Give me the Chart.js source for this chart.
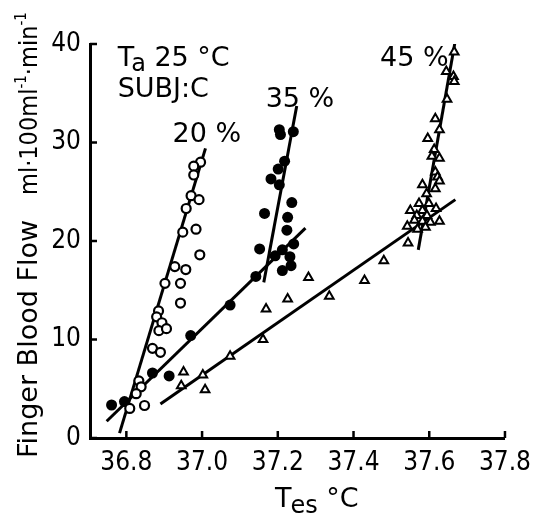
<!DOCTYPE html>
<html>
<head>
<meta charset="utf-8">
<script src="https://cdn.jsdelivr.net/npm/chart.js@4.4.1/dist/chart.umd.min.js"></script>
<style>
  html, body { margin: 0; padding: 0; background: #fff; }
  canvas { display: block; }
</style>
</head>
<body>
<canvas id="fbf" width="541" height="518"></canvas>
<script>
// Tes (°C) vs finger blood flow (ml/100ml/min)
const tes20  = [36.996, 36.978, 36.978, 36.971, 36.992, 36.958, 36.949, 36.984, 36.994, 36.928, 36.957, 36.902, 36.943, 36.943, 36.885, 36.880, 36.894, 36.886, 36.906, 36.869, 36.890, 36.833, 36.839, 36.826, 36.809, 36.848];
const flow20 = [28.0, 27.6, 26.7, 24.6, 24.2, 23.3, 20.9, 21.2, 18.6, 17.4, 17.1, 15.7, 15.7, 13.7, 12.9, 12.3, 11.7, 10.9, 11.1, 9.1, 8.7, 5.8, 5.2, 4.5, 3.0, 3.3];

const tes35  = [37.204, 37.207, 37.241, 37.218, 37.201, 37.182, 37.204, 37.237, 37.165, 37.226, 37.224, 37.242, 37.152, 37.212, 37.193, 37.232, 37.235, 37.212, 37.142, 37.074, 36.970, 36.869, 36.913, 36.761, 36.795];
const flow35 = [31.3, 30.8, 31.1, 28.1, 27.3, 26.3, 25.7, 23.9, 22.8, 22.4, 21.1, 19.7, 19.2, 19.1, 18.5, 18.4, 17.5, 17.0, 16.4, 13.5, 10.4, 6.6, 6.3, 3.35, 3.7];

const tes45  = [36.951, 36.945, 37.002, 37.008, 37.074, 37.161, 37.169, 37.226, 37.281, 37.336, 37.429, 37.480,
                37.666, 37.645, 37.664, 37.666, 37.647, 37.616, 37.627, 37.596, 37.613, 37.607, 37.627, 37.616, 37.622, 37.627,
                37.582, 37.616, 37.593, 37.573, 37.599, 37.618, 37.550, 37.582, 37.567, 37.594, 37.561, 37.582, 37.603, 37.627,
                37.542, 37.569, 37.590, 37.544];
const flow45 = [6.7, 5.3, 6.4, 4.9, 8.3, 10.0, 13.1, 14.1, 16.3, 14.4, 16.0, 18.0,
                39.2, 37.2, 36.7, 36.2, 34.4, 32.4, 31.3, 30.4, 29.3, 28.6, 28.4, 27.0, 26.5, 26.1,
                25.7, 25.3, 24.8, 23.8, 23.8, 23.3, 23.1, 23.1, 22.6, 22.6, 22.1, 22.0, 21.9, 22.0,
                21.5, 21.2, 21.4, 19.8];

// regression lines as drawn (end points)
const line20X  = [36.782, 37.009], line20Y  = [0.5, 29.4];
const line35aX = [36.748, 37.273], line35aY = [1.7, 21.3];
const line35bX = [37.163, 37.250], line35bY = [15.8, 33.7];
const line45aX = [36.890, 37.669], line45aY = [3.45, 24.2];
const line45bX = [37.571, 37.669], line45bY = [19.1, 40.4];

const xTicks = [36.8, 37.0, 37.2, 37.4, 37.6, 37.8];
const yTicks = [0, 10, 20, 30, 40];

const FAM = '"DejaVu Sans", sans-serif';
const NUM = '"DejaVu Sans Condensed", "DejaVu Sans", sans-serif';

const pts = (xs, ys) => xs.map((x, i) => ({ x: x, y: ys[i] }));

function lineSet(xs, ys) {
    return {
        data: pts(xs, ys),
        showLine: true,
        borderColor: '#000',
        borderWidth: 3,
        pointRadius: 0,
        order: 2
    };
}

// text with sub/superscripts: parts = [text, dy, size, dx, family]
function drawParts(ctx, parts, x, y) {
    parts.forEach(p => {
        ctx.font = p[2] + 'px ' + (p[4] || FAM);
        x += (p[3] || 0);
        ctx.fillText(p[0], x, y + p[1]);
        x += ctx.measureText(p[0]).width;
    });
}

const inwardTicks = {
    id: 'inwardTicks',
    afterDraw(chart) {
        const { ctx, chartArea: a } = chart;
        const sx = chart.scales.x, sy = chart.scales.y;
        ctx.save();
        ctx.strokeStyle = '#000';
        ctx.lineWidth = 2.5;
        xTicks.forEach(v => {
            const px = sx.getPixelForValue(v);
            ctx.beginPath(); ctx.moveTo(px, a.bottom); ctx.lineTo(px, a.bottom - 7); ctx.stroke();
        });
        yTicks.forEach(v => {
            const py = sy.getPixelForValue(v);
            ctx.beginPath(); ctx.moveTo(a.left, py); ctx.lineTo(a.left + 7, py); ctx.stroke();
        });
        ctx.restore();
    }
};

const labels = {
    id: 'labels',
    afterDraw(chart) {
        const ctx = chart.ctx;
        const sx = chart.scales.x, sy = chart.scales.y;
        const X = v => sx.getPixelForValue(v), Y = v => sy.getPixelForValue(v);
        ctx.save();
        ctx.fillStyle = '#000';
        ctx.textBaseline = 'alphabetic';
        ctx.textAlign = 'left';

        drawParts(ctx, [['T', 0, 27], ['a', 5, 24, -3], [' 25 °C', 0, 27]], X(36.777), Y(37.8));
        drawParts(ctx, [['SUBJ:C', 0, 27]], X(36.777), Y(34.6));
        drawParts(ctx, [['20 %', 0, 27]], X(36.922), Y(30.05));
        drawParts(ctx, [['35 %', 0, 27]], X(37.168), Y(33.6));
        drawParts(ctx, [['45 %', 0, 27]], X(37.47), Y(37.8));

        // x title
        drawParts(ctx, [['T', 0, 27], ['es', 6, 24, -1], [' °C', 0, 27]], 275, 507);

        // y title
        ctx.translate(37, 458);
        ctx.rotate(-Math.PI / 2);
        drawParts(ctx, [['Finger Blood Flow', 0, 27]], 0, 0);
        drawParts(ctx, [['ml·100ml', 0, 25, 0, NUM], ['-1', -11, 15, 0, NUM], ['·min', 0, 25, 0, NUM], ['-1', -11, 15, 0, NUM]], 263, 0);
        ctx.restore();
    }
};

new Chart(document.getElementById('fbf'), {
    type: 'scatter',
    data: {
        datasets: [
            {
                data: pts(tes20, flow20),
                pointStyle: 'circle',
                pointRadius: 4.5,
                pointBorderWidth: 2.2,
                pointBackgroundColor: '#fff',
                pointBorderColor: '#000',
                order: 0
            },
            {
                data: pts(tes35, flow35),
                pointStyle: 'circle',
                pointRadius: 5.5,
                pointBorderWidth: 0,
                pointBackgroundColor: '#000',
                pointBorderColor: '#000',
                order: 0
            },
            {
                data: pts(tes45, flow45),
                pointStyle: 'triangle',
                pointRadius: 5,
                pointBorderWidth: 2,
                pointBackgroundColor: '#fff',
                pointBorderColor: '#000',
                order: 0
            },
            lineSet(line20X, line20Y),
            lineSet(line35aX, line35aY),
            lineSet(line35bX, line35bY),
            lineSet(line45aX, line45aY),
            lineSet(line45bX, line45bY)
        ]
    },
    options: {
        responsive: false,
        animation: false,
        devicePixelRatio: 1,
        layout: { padding: { top: 44, right: 21, left: 0, bottom: 0 } },
        plugins: {
            legend: { display: false },
            tooltip: { enabled: false }
        },
        scales: {
            x: {
                type: 'linear',
                min: 36.704,
                max: 37.8,
                afterBuildTicks: s => { s.ticks = xTicks.map(v => ({ value: v })); },
                afterFit: s => { s.height = 80; },
                grid: { display: true, drawOnChartArea: false, drawTicks: false },
                border: { color: '#000', width: 3 },
                ticks: {
                    color: '#000',
                    padding: 10,
                    autoSkip: false,
                    maxRotation: 0,
                    font: { family: NUM, size: 26 },
                    callback: v => v.toFixed(1)
                }
            },
            y: {
                min: 0,
                max: 40,
                afterBuildTicks: s => { s.ticks = yTicks.map(v => ({ value: v })); },
                afterFit: s => { s.width = 90; },
                grid: { display: true, drawOnChartArea: false, drawTicks: false },
                border: { color: '#000', width: 3 },
                ticks: {
                    color: '#000',
                    padding: 9,
                    font: { family: NUM, size: 26 }
                }
            }
        }
    },
    plugins: [inwardTicks, labels]
});
</script>
</body>
</html>
